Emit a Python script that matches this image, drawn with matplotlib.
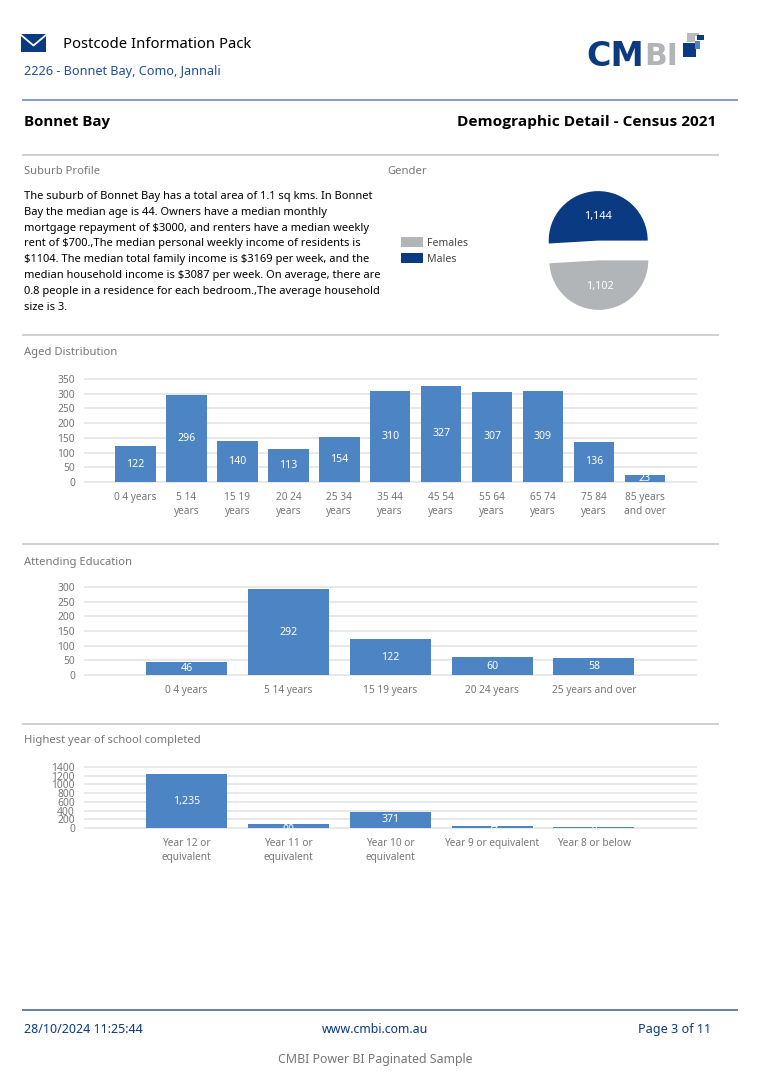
import matplotlib
matplotlib.use('Agg')
import matplotlib.pyplot as plt
from matplotlib.patches import Rectangle

W, H = 758, 1086

age_labels = ['0 4 years', '5 14\nyears', '15 19\nyears', '20 24\nyears', '25 34\nyears', '35 44\nyears',
              '45 54\nyears', '55 64\nyears', '65 74\nyears', '75 84\nyears', '85 years\nand over']
age_values = [122, 296, 140, 113, 154, 310, 327, 307, 309, 136, 23]
age_ticks = [0, 50, 100, 150, 200, 250, 300, 350]

edu_labels = ['0 4 years', '5 14 years', '15 19 years', '20 24 years', '25 years and over']
edu_values = [46, 292, 122, 60, 58]
edu_ticks = [0, 50, 100, 150, 200, 250, 300]

school_labels = ['Year 12 or\nequivalent', 'Year 11 or\nequivalent', 'Year 10 or\nequivalent',
                 'Year 9 or equivalent', 'Year 8 or below']
school_values = [1235, 88, 371, 54, 31]
school_ticks = [0, 200, 400, 600, 800, 1000, 1200, 1400]

gender_labels = ['Males', 'Females']
gender_values = [1144, 1102]

profile = ['The suburb of Bonnet Bay has a total area of 1.1 sq kms. In Bonnet',
           'Bay the median age is 44. Owners have a median monthly',
           'mortgage repayment of \\$3000, and renters have a median weekly',
           'rent of \\$700.,The median personal weekly income of residents is',
           '\\$1104. The median total family income is \\$3169 per week, and the',
           'median household income is \\$3087 per week. On average, there are',
           '0.8 people in a residence for each bedroom.,The average household',
           'size is 3.']

navy = '#0a3a82'
blue = '#4d84c4'
grey = '#b1b5b8'
txt_grey = '#777777'
link = '#1f4e9c'

plt.rcParams['font.family'] = ['Noto Sans', 'DejaVu Sans']
fig = plt.figure(figsize=(W / 100, H / 100), dpi=100)

# whole page axes in pixel coordinates, for the rules, icon and logo
page = fig.add_axes([0, 0, 1, 1])
page.set_xlim(0, W)
page.set_ylim(H, 0)
page.axis('off')


def px(x, y, s, size=8, color='black', ha='left', weight='normal', family=None):
    t = page.text(x, y + 1, s, fontsize=size, color=color, ha=ha, va='center', fontweight=weight)
    if family:
        t.set_family(family)
    return t


def rule(y, x0, x1, color, lw=1.0):
    page.plot([x0, x1], [y, y], color=color, lw=lw, solid_capstyle='butt')


def bar_chart(top, bottom, labels, values, ticks):
    ax = fig.add_axes([84.7 / W, 1 - bottom / H, 611 / W, (bottom - top) / H])
    xs = list(range(len(values)))
    bars = ax.bar(xs, values, width=0.795, color=blue, zorder=3)
    ax.set_xlim(-1, len(values))
    ax.set_ylim(ticks[0], ticks[-1])
    ax.set_yticks(ticks)
    ax.set_xticks(xs, labels)
    ax.grid(axis='y', color='#e4e4e4', lw=1.2, zorder=0, clip_on=False)
    ax.set_axisbelow(True)
    for s in ax.spines.values():
        s.set_visible(False)
    ax.tick_params(axis='y', length=0, pad=7, labelsize=7.4, labelcolor=txt_grey)
    ax.tick_params(axis='x', length=0, pad=7, labelsize=7.3, labelcolor=txt_grey)
    for b, v in zip(bars, values):
        t = ax.text(b.get_x() + b.get_width() / 2, v / 2, f'{v:,}', color='white', fontsize=7.6,
                    ha='center', va='center', zorder=4)
        t.set_clip_path(b)
        t.set_clip_on(True)
    ax.patch.set_alpha(0)
    for lab in ax.get_xticklabels():
        lab.set_linespacing(1.4)
    return ax


# envelope icon
page.add_patch(Rectangle((21, 34), 25, 17.5, color=navy, lw=0))
page.plot([21, 33.5, 46], [35, 45.5, 35], color='white', lw=1.3)

# logo
px(586, 55.5, 'CM', 24, navy, weight='bold', family='DejaVu Sans')
px(644, 55.5, 'BI', 21.5, grey, weight='bold', family='DejaVu Sans')
page.add_patch(Rectangle((687, 33), 12, 9, color='#b8bcc0', lw=0))
page.add_patch(Rectangle((695, 36), 4, 5, color='white', lw=0))
page.add_patch(Rectangle((697, 35), 7, 4.5, color=navy, lw=0))
page.add_patch(Rectangle((683, 43), 13, 14, color=navy, lw=0))
page.add_patch(Rectangle((695, 41), 4.5, 8, color=blue, lw=0))

px(63, 43, 'Postcode Information Pack', 10.7)
px(24, 70.5, '2226 - Bonnet Bay, Como, Jannali', 9.1, link)

rule(100, 22, 738, '#6d8fbf', 1.2)
px(24, 121, 'Bonnet Bay', 10.8, weight='bold', family='Open Sans')
px(716, 121, 'Demographic Detail - Census 2021', 11.1, ha='right', weight='bold', family='Open Sans')

for y in [155, 335, 544, 724]:
    rule(y, 22, 719, '#c8c8c8', 1.2)

# section titles
px(24, 171, 'Suburb Profile', 8.05, txt_grey)
px(387, 171, 'Gender', 8.05, txt_grey)
px(24, 351.5, 'Aged Distribution', 8.05, txt_grey)
px(24, 561.5, 'Attending Education', 8.05, txt_grey)
px(24, 740, 'Highest year of school completed', 8.05, txt_grey)

for i, line in enumerate(profile):
    px(24, 195.5 + i * 15.8, line, 8)

# pie, radius about 49.5px
pie_ax = fig.add_axes([(598.5 - 70) / W, 1 - (250.5 + 70) / H, 140 / W, 140 / H])
wedges, _ = pie_ax.pie(gender_values, colors=[navy, grey], startangle=0, explode=[0.2, 0.2], radius=1)
pie_ax.set_xlim(-140 / 99, 140 / 99)
pie_ax.set_ylim(-140 / 99, 140 / 99)
pie_ax.text(0, 0.68, f'{gender_values[0]:,}', color='white', fontsize=7.8, ha='center', va='center')
pie_ax.text(0.03, -0.72, f'{gender_values[1]:,}', color='white', fontsize=7.8, ha='center', va='center')
fig.legend([wedges[1], wedges[0]], gender_labels[::-1], loc='upper left',
           bbox_to_anchor=(393 / W, 1 - 229 / H), frameon=False, fontsize=7.6, labelcolor='#444444',
           handlelength=2.0, handleheight=1.0, handletextpad=0.4, labelspacing=0.42, borderpad=0.3)

bar_chart(379, 482, age_labels, age_values, age_ticks)
bar_chart(587, 675, edu_labels, edu_values, edu_ticks)
bar_chart(767, 828, school_labels, school_values, school_ticks)

# footer
rule(1010, 22, 738, '#4a6a9a', 1.2)
px(24, 1028.5, '28/10/2024 11:25:44', 9, navy)
px(375, 1028.5, 'www.cmbi.com.au', 8.9, navy, ha='center')
px(711, 1028.5, 'Page 3 of 11', 9.1, navy, ha='right')
px(375, 1058.5, 'CMBI Power BI Paginated Sample', 8.9, txt_grey, ha='center')

fig.savefig('out.png', dpi=100)
